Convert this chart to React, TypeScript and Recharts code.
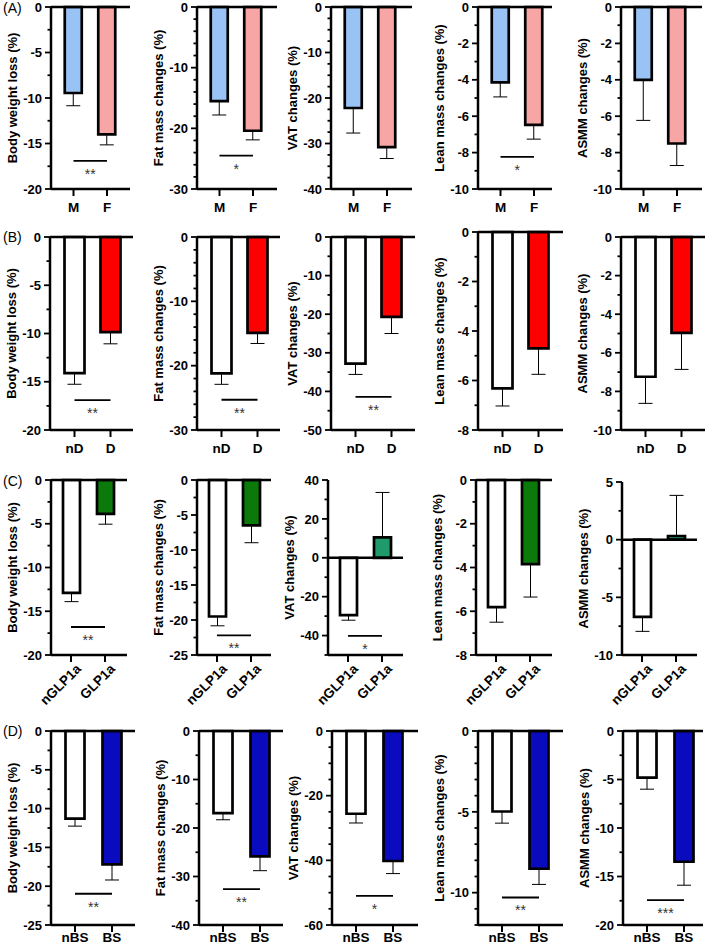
import React from 'react';
import { BarChart, Bar, XAxis, YAxis, Cell, ErrorBar, ReferenceLine } from 'recharts';

const FONT = '"Liberation Sans", Arial, sans-serif';

const measures = ['Body weight loss (%)', 'Fat mass changes (%)', 'VAT changes (%)', 'Lean mass changes (%)', 'ASMM changes (%)'];

// (A) sex
const sexGroups = ['M', 'F'];
const sexMeans = [[-9.45, -14.0], [-15.5, -20.4], [-22.2, -30.8], [-4.14, -6.48], [-4.0, -7.5]];
const sexSD = [[1.4, 1.15], [2.3, 1.5], [5.5, 2.5], [0.8, 0.78], [2.23, 1.21]];
const sexSig = ['**', '*', '', '*', ''];
const sexSigAt = [-16.9, -24.5, 0, -8.24, 0];

// (B) diabetes
const diabGroups = ['nD', 'D'];
const diabMeans = [[-14.1, -9.86], [-21.2, -14.9], [-32.8, -20.7], [-6.32, -4.7], [-7.24, -4.97]];
const diabSD = [[1.16, 1.21], [1.7, 1.65], [2.8, 4.3], [0.71, 1.05], [1.38, 1.89]];
const diabSig = ['**', '**', '**', '', ''];
const diabSigAt = [-16.9, -25.3, -41.4, 0, 0];

// (C) GLP-1 agonists
const glpGroups = ['nGLP1a', 'GLP1a'];
const glpMeans = [[-12.9, -3.87], [-19.5, -6.47], [-29.5, 10.5], [-5.81, -3.85], [-6.7, 0.32]];
const glpSD = [[1.0, 1.18], [1.33, 2.49], [2.6, 23.1], [0.69, 1.5], [1.25, 3.52]];
const glpSig = ['**', '**', '*', '', ''];
const glpSigAt = [-16.8, -22.2, -40.2, 0, 0];

// (D) bariatric surgery
const bsGroups = ['nBS', 'BS'];
const bsMeans = [[-11.28, -17.2], [-16.93, -25.87], [-25.6, -40.2], [-4.98, -8.52], [-4.81, -13.48]];
const bsSD = [[0.98, 2.0], [1.37, 2.93], [2.85, 3.9], [0.72, 0.97], [1.19, 2.42]];
const bsSig = ['**', '**', '*', '**', '***'];
const bsSigAt = [-20.97, -32.6, -50.97, -10.3, -17.44];

// y axes: [min, max], labelled step, minor step
const sexDomains = [[-20, 0], [-30, 0], [-40, 0], [-10, 0], [-10, 0]];
const sexMajor = [5, 10, 10, 2, 2];
const sexMinor = [2.5, 2, 2.5, 1, 1];
const diabDomains = [[-20, 0], [-30, 0], [-50, 0], [-8, 0], [-10, 0]];
const diabMajor = [5, 10, 10, 2, 2];
const diabMinor = [2.5, 2, 5, 1, 1];
const glpDomains = [[-20, 0], [-25, 0], [-50, 40], [-8, 0], [-10, 5]];
const glpMajor = [5, 5, 20, 2, 5];
const glpMinor = [2.5, 2.5, 10, 1, 2.5];
const bsDomains = [[-25, 0], [-40, 0], [-60, 0], [-12, 0], [-20, 0]];
const bsMajor = [5, 10, 20, 5, 5];
const bsMinor = [2.5, 5, 5, 1, 2.5];

const rows = [
  {
    tag: '(A)', groups: sexGroups, means: sexMeans, sds: sexSD, sig: sexSig, sigAt: sexSigAt,
    domains: sexDomains, major: sexMajor, minor: sexMinor,
    colors: [['#99C2F5', '#F8A5A5'], ['#99C2F5', '#F8A5A5'], ['#99C2F5', '#F8A5A5'], ['#99C2F5', '#F8A5A5'], ['#99C2F5', '#F8A5A5']],
    top: [7, 7, 7, 7, 7], bottom: 189, axisX: [51, 197, 331, 478, 621], rightX: [130, 277, 412, 552, 702],
    c1: 22.5, c2: 56, barSize: 17, tickMargin: 6, rotate: false, tagY: 0,
  },
  {
    tag: '(B)', groups: diabGroups, means: diabMeans, sds: diabSD, sig: diabSig, sigAt: diabSigAt,
    domains: diabDomains, major: diabMajor, minor: diabMinor,
    colors: [['#FFFFFF', '#FF0000'], ['#FFFFFF', '#FF0000'], ['#FFFFFF', '#FF0000'], ['#FFFFFF', '#FF0000'], ['#FFFFFF', '#FF0000']],
    top: [237, 237, 237, 232, 237], bottom: 430, axisX: [50, 197, 331, 478, 621], rightX: [133, 280, 415, 563, 705],
    c1: 24.5, c2: 60.5, barSize: 20, tickMargin: 6, rotate: false, tagY: 229,
  },
  {
    tag: '(C)', groups: glpGroups, means: glpMeans, sds: glpSD, sig: glpSig, sigAt: glpSigAt,
    domains: glpDomains, major: glpMajor, minor: glpMinor,
    colors: [['#FFFFFF', '#0B7A0B'], ['#FFFFFF', '#0B7A0B'], ['#FFFFFF', '#1F9A6B'], ['#FFFFFF', '#0B7A0B'], ['#FFFFFF', '#1F9A6B']],
    top: [480, 480, 480, 480, 482], bottom: 655, axisX: [51, 197, 328, 476, 622], rightX: [127, 271, 403, 552, 697],
    c1: 20, c2: 54, barSize: 17, tickMargin: 1, rotate: true, tagY: 473,
  },
  {
    tag: '(D)', groups: bsGroups, means: bsMeans, sds: bsSD, sig: bsSig, sigAt: bsSigAt,
    domains: bsDomains, major: bsMajor, minor: bsMinor,
    colors: [['#FFFFFF', '#0A0ABE'], ['#FFFFFF', '#0A0ABE'], ['#FFFFFF', '#0A0ABE'], ['#FFFFFF', '#0A0ABE'], ['#FFFFFF', '#0A0ABE']],
    top: [731, 731, 731, 731, 731], bottom: 925, axisX: [51, 199, 332, 478, 623], rightX: [135, 283, 418, 563, 703],
    c1: 24, c2: 61, barSize: 19, tickMargin: 0, rotate: false, tagY: 723,
  },
];

const YTick = (props: any) => {
  const { x, y, payload, major } = props;
  const v = payload.value;
  const isMajor = Math.abs(v / major - Math.round(v / major)) < 1e-6;
  return (
    <g>
      <line x1={x} x2={x - (isMajor ? 6 : 3.5)} y1={y} y2={y} stroke="#000" strokeWidth={1.8} />
      {isMajor && (
        <text x={x - 9} y={y} dy="0.36em" textAnchor="end" fontFamily={FONT} fontWeight="bold" fontSize={13} fill="#000">
          {v}
        </text>
      )}
    </g>
  );
};

const xTickStyle = { fontFamily: FONT, fontWeight: 'bold', fontSize: 13.5, fill: '#000' };

const Panel = ({ row, i }: { row: any; i: number }) => {
  const top = row.top[i];
  const plotW = row.rightX[i] - row.axisX[i];
  const plotH = row.bottom - top;
  const mT = 8;
  const yW = 50;
  const mR = 4;
  const xH = row.rotate ? 60 : 30;
  const band = row.c2 - row.c1;
  const pl = row.c1 - band / 2;
  const pr = plotW - pl - 2 * band;
  const data = row.groups.map((g: string, k: number) => {
    const v = row.means[i][k];
    const sd = row.sds[i][k];
    return { group: g, value: v, err: v < 0 ? [sd, 0] : [0, sd] };
  });
  const [lo, hi] = row.domains[i];
  const ticks: number[] = [];
  for (let v = hi; v >= lo - 1e-9; v -= row.minor[i]) ticks.push(Math.round(v * 100) / 100);
  const sig = row.sig[i];

  return (
    <div style={{ position: 'absolute', left: row.axisX[i] - yW, top: top - mT }}>
      <BarChart width={yW + plotW + mR} height={mT + plotH + xH} data={data} margin={{ top: mT, right: mR, bottom: 0, left: 0 }}>
        <XAxis
          dataKey="group"
          type="category"
          axisLine={{ stroke: '#000', strokeWidth: 2.5 }}
          tickLine={{ stroke: '#000', strokeWidth: 2 }}
          tickSize={7}
          tickMargin={row.tickMargin}
          height={xH}
          padding={{ left: pl, right: pr }}
          interval={0}
          angle={row.rotate ? -45 : 0}
          tick={row.rotate ? { ...xTickStyle, textAnchor: 'end', dx: 4 } : xTickStyle}
        />
        <YAxis
          type="number"
          domain={[lo, hi]}
          ticks={ticks}
          interval={0}
          width={yW}
          axisLine={{ stroke: '#000', strokeWidth: 2.5 }}
          tickLine={false}
          tickSize={0}
          tickMargin={0}
          tick={<YTick major={row.major[i]} />}
          label={{
            value: measures[i],
            angle: -90,
            position: 'center',
            dx: -14,
            style: { fontFamily: FONT, fontWeight: 'bold', fontSize: 13, fill: '#000' },
          }}
        />
        <Bar dataKey="value" barSize={row.barSize} stroke="#000" strokeWidth={2.7} isAnimationActive={false}>
          {data.map((d: any, k: number) => (
            <Cell key={d.group} fill={row.colors[i][k]} />
          ))}
          <ErrorBar dataKey="err" width={7} stroke="#000" strokeWidth={1} direction="y" />
        </Bar>
        <ReferenceLine y={0} stroke="#000" strokeWidth={2.5} />
        {sig && (
          <ReferenceLine
            segment={[{ x: row.groups[0], y: row.sigAt[i] }, { x: row.groups[1], y: row.sigAt[i] }]}
            stroke="#000"
            strokeWidth={1.8}
            label={{ value: sig, position: 'bottom', offset: 8, fill: '#333', fontSize: 14, fontFamily: FONT }}
          />
        )}
      </BarChart>
    </div>
  );
};

export default function App() {
  return (
    <div style={{ position: 'absolute', left: 0, top: 0, width: 709, height: 950, background: '#fff', overflow: 'hidden' }}>
      {rows.map((row) => (
        <React.Fragment key={row.tag}>
          <div style={{ position: 'absolute', left: 3, top: row.tagY, fontFamily: FONT, fontSize: 14, color: '#000' }}>{row.tag}</div>
          {measures.map((m, i) => (
            <Panel key={m} row={row} i={i} />
          ))}
        </React.Fragment>
      ))}
    </div>
  );
}
